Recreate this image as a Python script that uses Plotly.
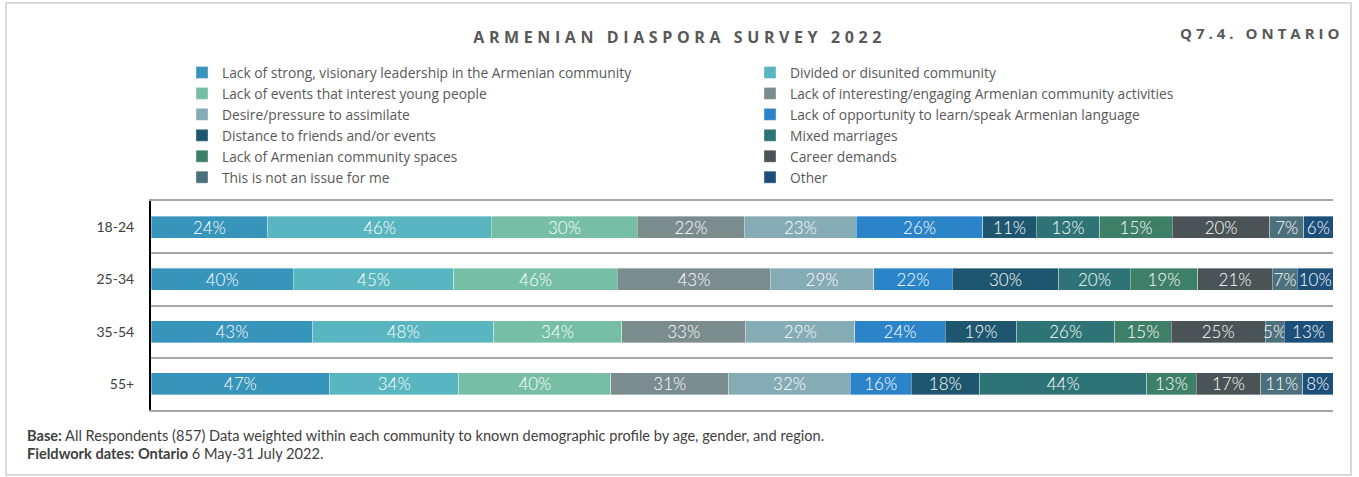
import plotly.graph_objects as go

# ---- data ----
categories = ["18-24", "25-34", "35-54", "55+"]

series_names = [
    "Lack of strong, visionary leadership in the Armenian community",
    "Divided or disunited community",
    "Lack of events that interest young people",
    "Lack of interesting/engaging Armenian community activities",
    "Desire/pressure to assimilate",
    "Lack of opportunity to learn/speak Armenian language",
    "Distance to friends and/or events",
    "Mixed marriages",
    "Lack of Armenian community spaces",
    "Career demands",
    "This is not an issue for me",
    "Other",
]

leadership = [24, 40, 43, 47]
divided = [46, 45, 48, 34]
events = [30, 46, 34, 40]
interesting = [22, 43, 33, 31]
assimilate = [23, 29, 29, 32]
language = [26, 22, 24, 16]
distance = [11, 30, 19, 18]
mixed = [13, 20, 26, 44]
spaces = [15, 19, 15, 13]
career = [20, 21, 25, 17]
not_issue = [7, 7, 5, 11]
other = [6, 10, 13, 8]

series_values = [leadership, divided, events, interesting, assimilate, language,
                 distance, mixed, spaces, career, not_issue, other]

colors = ["#3794BB", "#59B6C0", "#76BFA6", "#7B8C8E", "#85ABB5", "#2B84C8",
          "#1F566F", "#2E7476", "#3E7F68", "#4A5355", "#4D717C", "#1C4F79"]

title_text = "ARMENIAN DIASPORA SURVEY 2022"
subtitle_text = "Q7.4. ONTARIO"
base_note = "<b>Base:</b> All Respondents (857) Data weighted within each community to known demographic profile by age, gender, and region."
field_note = "<b>Fieldwork dates: Ontario</b> 6 May-31 July 2022."

# ---- figure ----
fig = go.Figure()
for name, vals, col in zip(series_names, series_values, colors):
    fig.add_trace(go.Bar(
        y=categories, x=vals, name=name, orientation="h",
        marker=dict(color=col, line=dict(color="rgba(255,255,255,0.45)", width=0.8)),
        text=[f"{v}%" for v in vals],
        textposition="inside", insidetextanchor="middle", textangle=0,
        textfont=dict(color="white", size=17, family="Lato", weight=300),
        hoverinfo="skip",
    ))

W, H = 1359, 477
L, R, T, B = 151, 26, 201, 67
pw, ph = W - L - R, H - T - B

def px_x(x):
    return (x - L) / pw

def px_y(y):
    return (H - B - y) / ph

fig.update_layout(
    width=W, height=H,
    barmode="stack", barnorm="percent", bargap=0.58,
    margin=dict(l=L, r=R, t=T, b=B, autoexpand=False),
    paper_bgcolor="white", plot_bgcolor="white",
    uniformtext=dict(minsize=17, mode="show"),
    showlegend=True,
    legend=dict(
        orientation="h", x=px_x(182), xanchor="left", y=px_y(57), yanchor="top",
        entrywidth=523, entrywidthmode="pixels", traceorder="normal",
        font=dict(family="Open Sans", size=13.8, color="#595959"),
        bgcolor="rgba(0,0,0,0)", itemclick=False, itemdoubleclick=False,
    ),
    xaxis=dict(range=[0, 100], visible=True, showticklabels=False, ticks="",
               showgrid=False, zeroline=False, showline=True, mirror=True,
               linecolor="#A6A6A6", linewidth=2, fixedrange=True),
    yaxis=dict(
        autorange="reversed", tickson="boundaries", showgrid=True,
        gridcolor="#A6A6A6", gridwidth=2, ticks="", showline=True,
        linecolor="#000000", linewidth=2,
        tickfont=dict(family="Lato", size=14, color="#404040"),
        ticklabelstandoff=12, fixedrange=True,
    ),
    font=dict(family="Lato"),
)

annotations = [
    dict(text=title_text, x=px_x(679), y=px_y(37), xref="paper", yref="paper",
         xanchor="center", yanchor="middle", showarrow=False,
         font=dict(family="Open Sans", size=16, color="#595959", weight="bold")),
    dict(text=subtitle_text, x=px_x(1262), y=px_y(33), xref="paper", yref="paper",
         xanchor="center", yanchor="middle", showarrow=False,
         font=dict(family="Open Sans", size=15, color="#595959", weight="bold")),
    dict(text=base_note, x=px_x(25), y=px_y(435), xref="paper", yref="paper",
         xanchor="left", yanchor="middle", showarrow=False,
         font=dict(family="Lato", size=14.6, color="#404040")),
    dict(text=field_note, x=px_x(25), y=px_y(453), xref="paper", yref="paper",
         xanchor="left", yanchor="middle", showarrow=False,
         font=dict(family="Lato", size=14.6, color="#404040")),
]
fig.update_layout(annotations=annotations)

# light outer frame of the chart area
fig.add_shape(type="rect", xref="paper", yref="paper",
              x0=px_x(6), x1=px_x(1351), y0=px_y(475), y1=px_y(3),
              line=dict(color="#D9D9D9", width=2), fillcolor="rgba(0,0,0,0)", layer="below")

post = """
document.body.style.margin = '0';
document.body.style.padding = '0';
var gd = document.getElementById('{plot_id}');
function spaceTitles(){
  gd.querySelectorAll('text').forEach(function(t){
    var c = t.textContent || '';
    if (c.indexOf('ARMENIAN DIASPORA') === 0) { t.style.letterSpacing = '4.6px'; }
    if (c.indexOf('Q7.4.') === 0) { t.style.letterSpacing = '4px'; }
  });
}
spaceTitles();
gd.on('plotly_afterplot', spaceTitles);
"""

fig.write_html("out.html", post_script=post, config={"displayModeBar": False})
